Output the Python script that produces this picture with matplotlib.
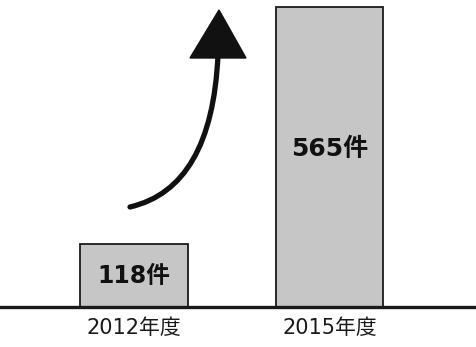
import matplotlib
matplotlib.use("Agg")
import matplotlib.pyplot as plt
from matplotlib.path import Path
from matplotlib.patches import PathPatch, Polygon

plt.rcParams['font.family'] = ['DejaVu Sans', 'Noto Sans CJK JP']

categories = ["2012年度", "2015年度"]
values = [118, 565]
value_labels = ["118件", "565件"]

W, H = 476, 347
fig = plt.figure(figsize=(W / 100, H / 100), dpi=100)
fig.patch.set_facecolor("white")

base_px = 307
ax = fig.add_axes([0, (H - base_px) / H, 1, base_px / H])
ax.set_facecolor("none")

pos = [0, 1]
bars = ax.bar(pos, values, width=0.552, color="#c6c6c6", edgecolor="#1a1a1a",
              linewidth=1.3, zorder=2)
ax.set_xlim(-0.685, 1.749)
ax.set_ylim(0, 565 * 307 / 300)
ax.axhline(0, color="#1a1a1a", linewidth=2.4, zorder=3, clip_on=False)

for side in ax.spines.values():
    side.set_visible(False)
ax.set_yticks([])
ax.set_xticks(pos)
ax.set_xticklabels(categories, fontsize=15, color="#1a1a1a")
ax.tick_params(axis="x", length=0, pad=8)

# value labels inside bars
ax.text(pos[0], values[0] / 2, value_labels[0], ha="center", va="center",
        fontsize=17, fontweight="bold", color="#111111", zorder=4)
ax.text(pos[1], values[1] * 0.525, value_labels[1], ha="center", va="center",
        fontsize=18, fontweight="bold", color="#111111", zorder=4)

# curved arrow (decoration), defined in pixel space
def px(x, y):
    return (x / W, 1 - y / H)

verts = [px(130, 207), px(212, 188), px(218, 55)]
codes = [Path.MOVETO, Path.CURVE3, Path.CURVE3]
shaft = PathPatch(Path(verts, codes), facecolor="none", edgecolor="#111111",
                  linewidth=3.8, transform=fig.transFigure, capstyle="round")
fig.add_artist(shaft)
head = Polygon([px(190, 58), px(246, 58), px(219, 10)], closed=True,
               facecolor="#111111", edgecolor="#111111", linewidth=1,
               transform=fig.transFigure)
fig.add_artist(head)

fig.savefig("out.png", dpi=100, facecolor=fig.get_facecolor())
